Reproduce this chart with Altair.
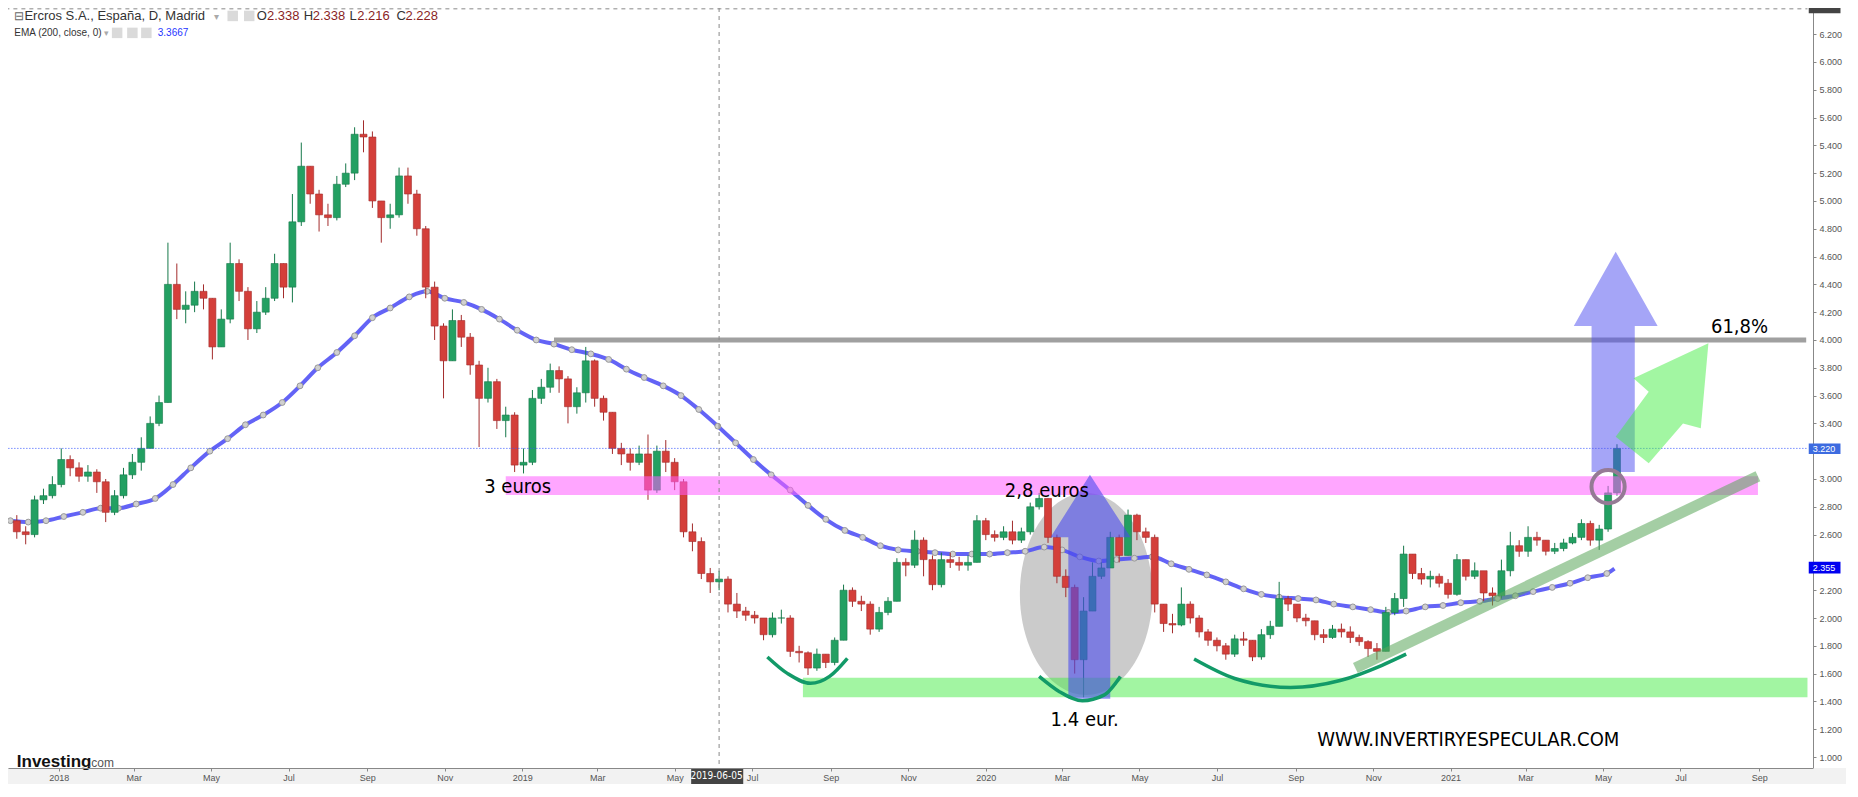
import altair as alt
import pandas as pd

# ---------------- weekly OHLC ----------------
week_start = "2017-11-29"
first_open = 2.70
closes = [2.62, 2.60, 2.85, 2.88, 2.96, 3.14, 3.08, 3.02, 3.05, 2.98,
          2.76, 2.88, 3.03, 3.12, 3.22, 3.40, 3.55, 4.40, 4.22, 4.25,
          4.35, 4.30, 3.95, 4.15, 4.55, 4.35, 4.08, 4.20, 4.30, 4.55,
          4.38, 4.85, 5.25, 5.05, 4.90, 4.88, 5.12, 5.20, 5.48, 5.46,
          5.00, 4.88, 4.90, 5.18, 5.05, 4.80, 4.38, 4.10, 3.85, 4.14,
          4.02, 3.82, 3.58, 3.70, 3.42, 3.46, 3.10, 3.12, 3.58, 3.66,
          3.78, 3.72, 3.52, 3.62, 3.85, 3.58, 3.48, 3.22, 3.18, 3.12,
          3.18, 2.92, 3.20, 3.12, 2.98, 2.62, 2.55, 2.32, 2.26, 2.28,
          2.10, 2.05, 2.02, 2.00, 1.88, 2.00, 2.00, 1.76, 1.75, 1.64,
          1.74, 1.68, 1.84, 2.20, 2.12, 2.10, 1.92, 2.04, 2.12, 2.40,
          2.38, 2.56, 2.42, 2.24, 2.42, 2.40, 2.38, 2.40, 2.70, 2.60,
          2.58, 2.62, 2.56, 2.62, 2.80, 2.86, 2.58, 2.30, 2.22, 1.70,
          2.05, 2.30, 2.36, 2.58, 2.45, 2.74, 2.62, 2.58, 2.10, 1.96,
          1.95, 2.10, 2.00, 1.90, 1.84, 1.80, 1.74, 1.85, 1.84, 1.72,
          1.88, 1.94, 2.14, 2.10, 2.00, 1.98, 1.88, 1.86, 1.92, 1.90,
          1.86, 1.83, 1.78, 1.76, 2.04, 2.14, 2.46, 2.32, 2.28, 2.30,
          2.25, 2.17, 2.42, 2.30, 2.34, 2.18, 2.16, 2.34, 2.52, 2.48,
          2.58, 2.56, 2.48, 2.50, 2.54, 2.58, 2.68, 2.56, 2.64, 2.90,
          3.22]
highs = [2.74, 2.66, 2.88, 2.93, 3.02, 3.22, 3.17, 3.12, 3.10, 3.07,
         3.00, 2.92, 3.08, 3.18, 3.30, 3.45, 3.60, 4.70, 4.55, 4.35,
         4.42, 4.40, 4.30, 4.22, 4.70, 4.58, 4.38, 4.28, 4.38, 4.62,
         4.55, 5.05, 5.42, 5.25, 5.08, 4.98, 5.18, 5.27, 5.53, 5.58,
         5.50, 5.00, 4.98, 5.24, 5.24, 5.08, 4.82, 4.42, 4.12, 4.22,
         4.18, 4.05, 3.85, 3.80, 3.72, 3.52, 3.48, 3.22, 3.64, 3.72,
         3.83, 3.81, 3.74, 3.66, 3.95, 3.86, 3.60, 3.48, 3.26, 3.22,
         3.24, 3.32, 3.24, 3.28, 3.15, 3.00, 2.68, 2.58, 2.36, 2.34,
         2.30, 2.18, 2.08, 2.05, 2.00, 2.04, 2.06, 2.02, 1.80, 1.76,
         1.78, 1.74, 1.86, 2.24, 2.22, 2.16, 2.12, 2.08, 2.15, 2.43,
         2.43, 2.63, 2.58, 2.45, 2.47, 2.47, 2.44, 2.45, 2.74, 2.72,
         2.63, 2.66, 2.70, 2.65, 2.83, 2.90, 2.86, 2.60, 2.35, 2.24,
         2.15, 2.40, 2.40, 2.62, 2.60, 2.78, 2.75, 2.65, 2.60, 2.10,
         2.03, 2.22, 2.12, 2.02, 1.92, 1.86, 1.82, 1.88, 1.90, 1.84,
         1.92, 1.98, 2.26, 2.16, 2.10, 2.03, 1.98, 1.92, 1.95, 1.96,
         1.94, 1.88, 1.84, 1.82, 2.08, 2.18, 2.52, 2.46, 2.36, 2.34,
         2.32, 2.28, 2.46, 2.42, 2.40, 2.32, 2.22, 2.42, 2.62, 2.56,
         2.66, 2.62, 2.56, 2.54, 2.57, 2.61, 2.71, 2.70, 2.67, 2.95,
         3.25]
lows = [2.57, 2.53, 2.58, 2.82, 2.86, 2.94, 3.02, 2.98, 2.98, 2.90,
        2.69, 2.74, 2.86, 3.00, 3.06, 3.22, 3.38, 3.55, 4.15, 4.12,
        4.20, 4.22, 3.86, 3.95, 4.12, 4.28, 4.00, 4.05, 4.18, 4.28,
        4.30, 4.27, 4.82, 4.98, 4.78, 4.82, 4.86, 5.10, 5.15, 5.35,
        4.95, 4.70, 4.80, 4.88, 4.98, 4.75, 4.30, 4.00, 3.58, 3.85,
        3.95, 3.75, 3.23, 3.55, 3.36, 3.30, 3.05, 3.04, 3.10, 3.54,
        3.62, 3.62, 3.40, 3.47, 3.55, 3.52, 3.42, 3.18, 3.10, 3.06,
        3.10, 2.85, 2.90, 3.05, 2.92, 2.58, 2.48, 2.28, 2.18, 2.20,
        2.04, 2.00, 1.98, 1.96, 1.84, 1.86, 1.96, 1.72, 1.68, 1.59,
        1.62, 1.64, 1.66, 1.84, 2.08, 2.05, 1.88, 1.90, 2.02, 2.12,
        2.30, 2.36, 2.30, 2.20, 2.22, 2.36, 2.34, 2.34, 2.40, 2.56,
        2.55, 2.56, 2.53, 2.54, 2.60, 2.78, 2.54, 2.25, 2.15, 1.60,
        1.43, 2.05, 2.28, 2.36, 2.40, 2.45, 2.56, 2.54, 2.04, 1.90,
        1.89, 1.94, 1.96, 1.86, 1.80, 1.76, 1.70, 1.72, 1.80, 1.69,
        1.70, 1.85, 1.94, 2.05, 1.97, 1.94, 1.84, 1.82, 1.85, 1.86,
        1.82, 1.80, 1.72, 1.70, 1.76, 2.02, 2.08, 2.28, 2.24, 2.22,
        2.22, 2.14, 2.16, 2.27, 2.28, 2.12, 2.09, 2.14, 2.30, 2.44,
        2.44, 2.52, 2.45, 2.46, 2.48, 2.53, 2.56, 2.52, 2.49, 2.62,
        2.88]

# ---------------- EMA(200) (dots every ~2 weeks) ----------------
ema_first, ema_last_dot = "2017-11-24", "2021-05-04"
ema_values = [2.70, 2.69, 2.70, 2.73, 2.76, 2.79, 2.79, 2.82, 2.86, 2.96,
              3.08, 3.20, 3.29, 3.39, 3.46, 3.55, 3.67, 3.80, 3.91, 4.03,
              4.16, 4.23, 4.31, 4.35, 4.30, 4.27, 4.22, 4.15, 4.07, 4.00,
              3.97, 3.93, 3.90, 3.86, 3.79, 3.73, 3.67, 3.60, 3.50, 3.38,
              3.26, 3.14, 3.03, 2.92, 2.81, 2.71, 2.63, 2.58, 2.52, 2.49,
              2.48, 2.47, 2.46, 2.46, 2.46, 2.47, 2.48, 2.51, 2.49, 2.44,
              2.41, 2.42, 2.43, 2.44, 2.39, 2.35, 2.31, 2.26, 2.21, 2.17,
              2.15, 2.14, 2.13, 2.10, 2.08, 2.06, 2.04, 2.05, 2.08, 2.09,
              2.11, 2.12, 2.14, 2.16, 2.19, 2.22, 2.25, 2.29, 2.32]
ema_end_date, ema_end_value = "2021-05-10", 2.355

# ---------------- levels / annotations ----------------
last_price = 3.22
crosshair_date = "2019-06-05"
pink_zone = {"start": ["2018-12-19"], "end": ["2021-08-31"], "low": [2.885], "high": [3.02]}
green_zone = {"start": ["2019-08-10"], "end": ["2021-10-09"], "low": [1.43], "high": [1.57]}
resistance = {"start": ["2019-01-26"], "end": ["2021-10-08"], "level": [4.0]}

small_arrow_dates = ["2020-03-06", "2020-03-06", "2020-02-21", "2020-03-23", "2020-04-24", "2020-04-08", "2020-04-08"]
small_arrow_vals = [1.42, 2.58, 2.58, 3.03, 2.58, 2.58, 1.42]
big_arrow_dates = ["2021-04-22", "2021-04-22", "2021-04-08", "2021-05-11", "2021-06-13", "2021-05-26", "2021-05-26"]
big_arrow_vals = [3.05, 4.10, 4.10, 4.635, 4.10, 4.10, 3.05]
green_arrow_dates = ["2021-07-23", "2021-05-25", "2021-06-06", "2021-05-11", "2021-06-06", "2021-07-03", "2021-07-17"]
green_arrow_vals = [3.976, 3.724, 3.628, 3.304, 3.113, 3.40, 3.365]

arc_names = ["a"] * 5 + ["b"] * 5 + ["c"] * 6
arc_dates = ["2019-07-13", "2019-07-29", "2019-08-16", "2019-08-31", "2019-09-14",
             "2020-02-12", "2020-02-28", "2020-03-17", "2020-04-03", "2020-04-16",
             "2020-06-13", "2020-07-15", "2020-08-28", "2020-10-06", "2020-11-08", "2020-11-27"]
arc_vals = [1.72, 1.60, 1.53, 1.58, 1.71,
            1.58, 1.47, 1.405, 1.445, 1.58,
            1.705, 1.565, 1.50, 1.55, 1.66, 1.74]

trend_dates = ["2020-10-18", "2021-08-31"]
trend_vals = [1.64, 3.02]

ellipse_date, ellipse_val = "2020-03-20", 2.173
circle_date, circle_val = "2021-05-05", 2.945

note_texts = ["3 euros", "2,8 euros", "1.4 eur.", "61,8%", "WWW.INVERTIRYESPECULAR.COM"]
note_dates = ["2018-12-02", "2020-01-16", "2020-02-21", "2021-07-25", "2020-09-18"]
note_vals = [2.90, 2.873, 1.225, 4.048, 1.079]

y_ticks = [1.0, 1.2, 1.4, 1.6, 1.8, 2.0, 2.2, 2.4, 2.6, 2.8, 3.0, 3.2, 3.4, 3.6,
           3.8, 4.0, 4.2, 4.4, 4.6, 4.8, 5.0, 5.2, 5.4, 5.6, 5.8, 6.0, 6.2]
# tick labels that sit behind the price boxes in the reference
y_hidden_labels = [2.4, 3.2]

# ---------------- build tables ----------------
dates = pd.date_range(week_start, periods=len(closes), freq="7D").strftime("%Y-%m-%d").tolist()
opens = [first_open] + closes[:-1]
candles = pd.DataFrame({"date": dates, "open": opens, "high": highs, "low": lows, "close": closes})

ema_dates = pd.date_range(ema_first, ema_last_dot, periods=len(ema_values)).strftime("%Y-%m-%d").tolist()
ema_dots = pd.DataFrame({"date": ema_dates, "v": ema_values})
ema_line = pd.DataFrame({"date": ema_dates + [ema_end_date], "v": ema_values + [ema_end_value]})

NARROW = "Liberation Sans Narrow, Arial Narrow, DejaVu Sans Condensed, Liberation Sans, sans-serif"
SANS = "Liberation Sans, Arial, sans-serif"
UP, DOWN = "#23a062", "#d43f3a"
UP_W, DOWN_W = "#16784a", "#a32c2c"

XS = alt.Scale(type="utc",
               domain=[alt.DateTime(year=2017, month=11, date=26, utc=True),
                       alt.DateTime(year=2021, month=10, date=9, hours=10, utc=True)])
Y_TOP, Y_BOT, Y_PAGE_BOT = 6.388, 0.921, 0.79
YS = alt.Scale(domain=[Y_BOT, Y_TOP], nice=False, zero=False)

hidden_expr = " || ".join(f"datum.value == {v}" for v in y_hidden_labels)
XAXIS = alt.Axis(orient="bottom", tickCount={"interval": "month", "step": 2},
                 labelExpr="utcmonth(datum.value) == 0 ? utcFormat(datum.value, '%Y') : utcFormat(datum.value, '%b')",
                 labelFontSize=9, labelColor="#555", labelFont=SANS, tickSize=3, tickColor="#888",
                 domainColor="#888", grid=False, labelPadding=2, zindex=1, labelFlush=False, title=None)
YAXIS = alt.Axis(orient="right", values=y_ticks, labelExpr=f"({hidden_expr}) ? '' : format(datum.value, '.3f')",
                 labelFontSize=9, labelColor="#555",
                 labelFont=SANS, tickSize=3, tickColor="#888", domainColor="#888", grid=False,
                 labelPadding=3, title=None)


def ex(f):
    return alt.X(f, type="temporal", scale=XS, axis=XAXIS, title=None)


def ey(f):
    return alt.Y(f, type="quantitative", scale=YS, axis=YAXIS, title=None)


layers = []

# bottom strip under the time axis
strip = pd.DataFrame({"s": ["2017-11-01"], "e": ["2021-11-20"], "a": [Y_BOT], "b": [Y_PAGE_BOT]})
layers.append(alt.Chart(strip).mark_rect(color="#f2f2f2").encode(
    x=ex("s"), x2=alt.X2("e"), y=ey("a"), y2=alt.Y2("b")))

# grey ellipse
ELLIPSE = ("M 0.656 0 C 0.656 0.5523 0.3623 1 0 1 C -0.3623 1 -0.656 0.5523 -0.656 0 "
           "C -0.656 -0.5523 -0.3623 -1 0 -1 C 0.3623 -1 0.656 -0.5523 0.656 0 Z")
layers.append(alt.Chart(pd.DataFrame({"date": [ellipse_date], "v": [ellipse_val]})).mark_point(
    shape=ELLIPSE, filled=True, color="#cbcbcb", opacity=1, size=40804, strokeWidth=0).encode(
    x=ex("date"), y=ey("v")))

# EMA
layers.append(alt.Chart(ema_line).mark_line(color="#5252f5", strokeWidth=4, opacity=0.9,
                                            interpolate="monotone").encode(x=ex("date"), y=ey("v")))
layers.append(alt.Chart(ema_dots).mark_point(filled=True, fill="#d0d0d0", stroke="#999999",
                                             strokeWidth=1, size=34, opacity=1).encode(
    x=ex("date"), y=ey("v")))

# candles
up_cond = "datum.close >= datum.open"
layers.append(alt.Chart(candles).mark_rule(strokeWidth=1).encode(
    x=ex("date"), y=ey("low"), y2=alt.Y2("high"),
    color=alt.condition(up_cond, alt.value(UP_W), alt.value(DOWN_W))))
layers.append(alt.Chart(candles).mark_bar(size=7, strokeWidth=0.6).encode(
    x=ex("date"), y=ey("open"), y2=alt.Y2("close"),
    color=alt.condition(up_cond, alt.value(UP), alt.value(DOWN)),
    stroke=alt.condition(up_cond, alt.value(UP_W), alt.value(DOWN_W))))

# zones
layers.append(alt.Chart(pd.DataFrame(pink_zone)).mark_rect(color="#ff5cff", opacity=0.55).encode(
    x=ex("start"), x2=alt.X2("end"), y=ey("low"), y2=alt.Y2("high")))
layers.append(alt.Chart(pd.DataFrame(green_zone)).mark_rect(color="#45ec45", opacity=0.5).encode(
    x=ex("start"), x2=alt.X2("end"), y=ey("low"), y2=alt.Y2("high")))
layers.append(alt.Chart(pd.DataFrame(resistance)).mark_rule(color="#a0a0a0", strokeWidth=5).encode(
    x=ex("start"), x2=alt.X2("end"), y=ey("level")))

# last price dotted line + crosshair
layers.append(alt.Chart(pd.DataFrame({"s": ["2017-11-20"], "e": ["2021-10-09"], "v": [last_price]})).mark_rule(
    color="#3355ff", strokeWidth=1, strokeDash=[1, 2]).encode(x=ex("s"), x2=alt.X2("e"), y=ey("v")))
layers.append(alt.Chart(pd.DataFrame({"d": [crosshair_date], "a": [Y_TOP], "b": [Y_BOT]})).mark_rule(
    color="#888", strokeWidth=1, strokeDash=[4, 4]).encode(x=ex("d"), y=ey("a"), y2=alt.Y2("b")))
layers.append(alt.Chart(pd.DataFrame({"s": ["2017-11-20"], "e": ["2021-10-09"], "v": [6.382]})).mark_rule(
    color="#888", strokeWidth=1, strokeDash=[4, 4]).encode(x=ex("s"), x2=alt.X2("e"), y=ey("v")))


# arrows (filled polygons)
def polygon(dts, vals, color, opacity):
    d = pd.DataFrame({"date": dts + [dts[0]], "v": vals + [vals[0]], "i": list(range(len(dts) + 1))})
    return alt.Chart(d).mark_line(fill=color, fillOpacity=opacity, stroke=color, strokeOpacity=0,
                                  strokeWidth=0).encode(x=ex("date"), y=ey("v"), order=alt.Order("i:Q"))


layers.append(polygon(small_arrow_dates, small_arrow_vals, "#4b4bef", 0.6))
layers.append(polygon(big_arrow_dates, big_arrow_vals, "#4b4bef", 0.5))
layers.append(polygon(green_arrow_dates, green_arrow_vals, "#45ee45", 0.5))

# arcs
arcs = pd.DataFrame({"arc": arc_names, "date": arc_dates, "v": arc_vals})
layers.append(alt.Chart(arcs).mark_line(color="#129a68", strokeWidth=3.5, interpolate="monotone").encode(
    x=ex("date"), y=ey("v"), detail="arc:N"))

# trend line
layers.append(alt.Chart(pd.DataFrame({"date": trend_dates, "v": trend_vals})).mark_line(
    color="#5aa55a", strokeWidth=11, opacity=0.55, strokeCap="butt").encode(x=ex("date"), y=ey("v")))

# circle
layers.append(alt.Chart(pd.DataFrame({"date": [circle_date], "v": [circle_val]})).mark_point(
    shape="circle", filled=False, color="#957a95", size=1100, strokeWidth=4, opacity=1).encode(
    x=ex("date"), y=ey("v")))

# annotation texts
notes = pd.DataFrame({"t": note_texts, "date": note_dates, "v": note_vals})
layers.append(alt.Chart(notes).mark_text(align="left", baseline="alphabetic", font=NARROW, fontSize=20,
                                         color="#000").encode(x=ex("date"), y=ey("v"), text="t:N"))

# header
hdr_texts = ["\u229f", "Ercros S.A., España, D, Madrid", "\u25be", "O", "2.338", "H", "2.338", "L", "2.216", "C", "2.228",
             "EMA (200, close, 0)", "\u25be", "3.3667"]
hdr_dates = ["2017-11-27", "2017-12-05", "2018-05-03", "2018-06-06", "2018-06-14", "2018-07-13", "2018-07-20",
             "2018-08-18", "2018-08-24", "2018-09-24", "2018-10-01",
             "2017-11-27", "2018-02-06", "2018-03-20"]
hdr_vals = [6.302] * 11 + [6.187] * 3
hdr_sizes = [12, 13, 10, 13, 13, 13, 13, 13, 13, 13, 13, 10, 9, 10]
hdr_colors = ["#666", "#333", "#aaa", "#333", "#8a1f1f", "#333", "#8a1f1f", "#333", "#8a1f1f", "#333", "#8a1f1f",
              "#333", "#aaa", "#1f35ff"]
hdr = pd.DataFrame({"t": hdr_texts, "date": hdr_dates, "v": hdr_vals, "s": hdr_sizes, "c": hdr_colors})
layers.append(alt.Chart(hdr).mark_text(align="left", baseline="alphabetic", font=SANS).encode(
    x=ex("date"), y=ey("v"), text="t:N",
    size=alt.Size("s:Q", scale=None, legend=None), color=alt.Color("c:N", scale=None, legend=None)))
icons = pd.DataFrame({"date": ["2018-05-18", "2018-05-31", "2018-02-16", "2018-02-28", "2018-03-11"],
                      "v": [6.331, 6.331, 6.209, 6.209, 6.209]})
layers.append(alt.Chart(icons).mark_square(color="#dadada", size=110, opacity=1).encode(
    x=ex("date"), y=ey("v")))

# logo
logo_texts = ["Investing", ".com"]
logo_dates = ["2017-11-29", "2018-01-24"]
logo_val = 0.928
layers.append(alt.Chart(pd.DataFrame({"t": [logo_texts[0]], "date": [logo_dates[0]], "v": [logo_val]})).mark_text(
    align="left", baseline="alphabetic", font=SANS, fontWeight="bold", fontSize=17, color="#111").encode(
    x=ex("date"), y=ey("v"), text="t:N"))
layers.append(alt.Chart(pd.DataFrame({"t": [logo_texts[1]], "date": [logo_dates[1]], "v": [logo_val]})).mark_text(
    align="left", baseline="alphabetic", font=SANS, fontSize=12, color="#555").encode(
    x=ex("date"), y=ey("v"), text="t:N"))

# price boxes on the right axis
boxes = pd.DataFrame({"s": ["2021-10-10"] * 3, "e": ["2021-11-04"] * 3,
                      "a": [3.18, 2.32, 6.35], "b": [3.256, 2.405, 6.388],
                      "c": ["#3d6be0", "#0000f0", "#444444"]})
layers.append(alt.Chart(boxes).mark_rect().encode(
    x=ex("s"), x2=alt.X2("e"), y=ey("a"), y2=alt.Y2("b"), color=alt.Color("c:N", scale=None, legend=None)))
box_txt = pd.DataFrame({"t": ["3.220", "2.355"], "date": ["2021-10-22"] * 2, "v": [3.218, 2.362]})
layers.append(alt.Chart(box_txt).mark_text(font=SANS, fontSize=9, color="white", baseline="middle").encode(
    x=ex("date"), y=ey("v"), text="t:N"))

# crosshair date box on the time axis
layers.append(alt.Chart(pd.DataFrame({"s": ["2019-05-14"], "e": ["2019-06-24"], "a": [Y_BOT], "b": [Y_PAGE_BOT]}))
              .mark_rect(color="#444").encode(x=ex("s"), x2=alt.X2("e"), y=ey("a"), y2=alt.Y2("b")))
layers.append(alt.Chart(pd.DataFrame({"t": [crosshair_date], "date": ["2019-06-03"], "v": [0.862]})).mark_text(
    font=NARROW, fontSize=10, color="white", baseline="middle").encode(x=ex("date"), y=ey("v"), text="t:N"))

chart = alt.layer(*layers).properties(
    width=1805, height=760,
    autosize=alt.AutoSizeParams(type="none"),
    padding={"left": 0, "top": 0, "right": 33, "bottom": 16},
    background="white",
).configure_view(stroke=None)

chart.save("out.html", embed_options={"renderer": "svg", "actions": False})
